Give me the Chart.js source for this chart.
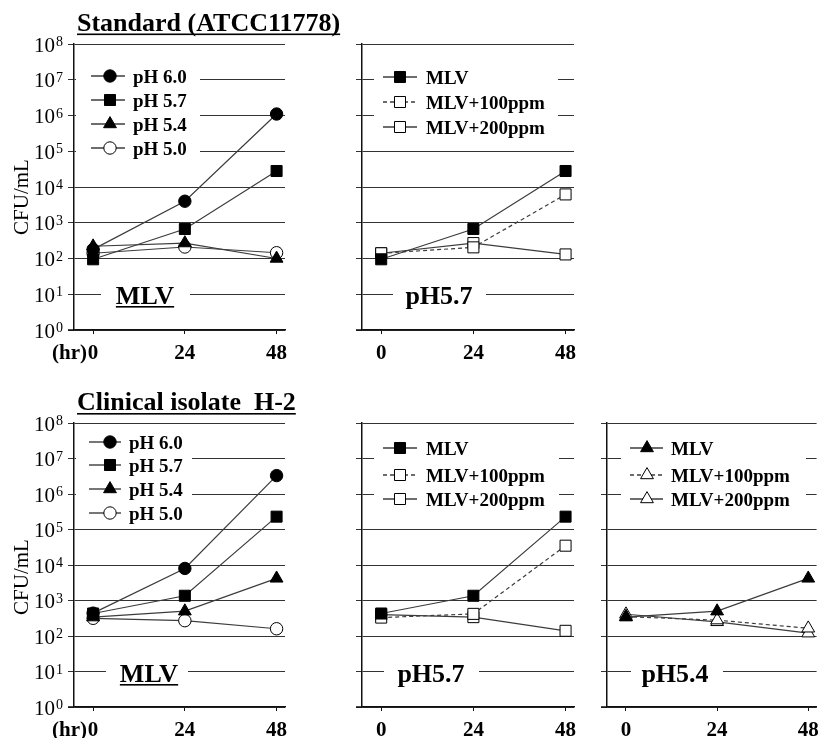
<!DOCTYPE html>
<html>
<head>
<meta charset="utf-8">
<script src="https://cdn.jsdelivr.net/npm/chart.js"></script>
<style>
  html, body { margin: 0; padding: 0; background: #fff; }
  #wrap { position: relative; width: 825px; height: 738px; background: #fff; }
  #wrap canvas { position: absolute; left: 0; top: 0; }
</style>
</head>
<body>
<div id="wrap">
  <canvas id="c0" width="825" height="738"></canvas>
  <canvas id="c1" width="825" height="738"></canvas>
  <canvas id="c2" width="825" height="738"></canvas>
  <canvas id="c3" width="825" height="738"></canvas>
  <canvas id="c4" width="825" height="738"></canvas>
</div>
<script>
// ---------------- DATA ----------------
const hours = [0, 24, 48];
const hourTicks = ['0', '24', '48'];
const yTickExps = [0, 1, 2, 3, 4, 5, 6, 7, 8];
const phNames = ['pH 6.0', 'pH 5.7', 'pH 5.4', 'pH 5.0'];
const mlvNames = ['MLV', 'MLV+100ppm', 'MLV+200ppm'];
const titleStd = 'Standard (ATCC11778)';
const titleH2 = 'Clinical isolate  H-2';
const yTitle = 'CFU/mL';
const hrLabel = '(hr)';
const tagMLV = 'MLV';
const tag57 = 'pH5.7';
const tag54 = 'pH5.4';

// Standard (ATCC11778), MLV at different pH
const stdPH60 = [180, 4000, 1100000];
const stdPH57 = [95, 670, 28000];
const stdPH54 = [220, 270, 100];
const stdPH50 = [140, 210, 145];
// Standard, pH5.7
const stdMLV = [95, 670, 28000];
const stdMLV100 = [140, 205, 6200];
const stdMLV200 = [140, 270, 130];
// Clinical isolate H-2, MLV at different pH
const h2PH60 = [440, 8000, 3300000];
const h2PH57 = [430, 1360, 230000];
const h2PH54 = [340, 500, 4200];
const h2PH50 = [315, 270, 160];
// H-2, pH5.7
const h2MLV57 = [430, 1360, 230000];
const h2MLV100p57 = [330, 420, 35000];
const h2MLV200p57 = [400, 340, 140];
// H-2, pH5.4
const h2MLV54 = [340, 500, 4200];
const h2MLV100p54 = [350, 280, 165];
const h2MLV200p54 = [410, 250, 120];

// ---------------- STYLES ----------------
const FONT = '"Liberation Serif", "Times New Roman", serif';
const LINE_COLOR = '#3c3c3c';
const GRID_COLOR = '#333';
const MK = {
  fc: { pointStyle: 'circle', r: 6.2, fill: '#000' },
  fs: { pointStyle: 'rect', r: 7.8, fill: '#000' },
  ft: { pointStyle: 'triangle', r: 7.4, fill: '#000' },
  oc: { pointStyle: 'circle', r: 6.2, fill: '#fff' },
  os: { pointStyle: 'rect', r: 7.8, fill: '#fff' },
  ot: { pointStyle: 'triangle', r: 7.4, fill: '#fff' }
};
const DASH = [4, 3];

const panels = [
  { id: 'c0', area: [74, 44, 285, 330], yLabels: true, hr: true,
    series: [[phNames[0], stdPH60, 'fc', false], [phNames[1], stdPH57, 'fs', false],
             [phNames[2], stdPH54, 'ft', false], [phNames[3], stdPH50, 'oc', false]],
    legend: { box: [76, 56, 200, 165], x0: 91, x1: 125, mx: 110, tx: 133, rows: [76, 100, 124, 148] },
    tag: { text: tagMLV, cx: 145, base: 304, ul: true, box: [101, 190] },
    title: { text: titleStd, x: 77, base: 31, ul: 33.5 }, yTitleCy: 197 },
  { id: 'c1', area: [362, 44, 574, 330], yLabels: false, hr: false,
    series: [[mlvNames[0], stdMLV, 'fs', false], [mlvNames[1], stdMLV100, 'os', true],
             [mlvNames[2], stdMLV200, 'os', false]],
    legend: { box: [374, 60, 558, 140], x0: 383, x1: 417, mx: 400, tx: 426, rows: [77, 102, 127] },
    tag: { text: tag57, cx: 439, base: 304, ul: false, box: [393, 486] } },
  { id: 'c2', area: [74, 423, 285, 707], yLabels: true, hr: true,
    series: [[phNames[0], h2PH60, 'fc', false], [phNames[1], h2PH57, 'fs', false],
             [phNames[2], h2PH54, 'ft', false], [phNames[3], h2PH50, 'oc', false]],
    legend: { box: [76, 430, 192, 525], x0: 89, x1: 121, mx: 110, tx: 129, rows: [442, 465, 489, 513] },
    tag: { text: tagMLV, cx: 149, base: 682, ul: true, box: [106, 188] },
    title: { text: titleH2, x: 77, base: 410, ul: 413 }, yTitleCy: 577 },
  { id: 'c3', area: [362, 423, 574, 707], yLabels: false, hr: false,
    series: [[mlvNames[0], h2MLV57, 'fs', false], [mlvNames[1], h2MLV100p57, 'os', true],
             [mlvNames[2], h2MLV200p57, 'os', false]],
    legend: { box: [374, 432, 559, 514], x0: 383, x1: 417, mx: 400, tx: 426, rows: [448, 475, 499] },
    tag: { text: tag57, cx: 431, base: 682, ul: false, box: [384, 479] } },
  { id: 'c4', area: [607, 423, 817, 707], yLabels: false, hr: false,
    series: [[mlvNames[0], h2MLV54, 'ft', false], [mlvNames[1], h2MLV100p54, 'ot', true],
             [mlvNames[2], h2MLV200p54, 'ot', false]],
    legend: { box: [621, 432, 806, 514], x0: 630, x1: 663, mx: 647, tx: 671, rows: [448, 475, 499] },
    tag: { text: tag54, cx: 675, base: 682, ul: false, box: [631, 723] } }
];

function drawMarker(ctx, key, x, y) {
  const m = MK[key];
  ctx.save();
  ctx.beginPath();
  if (m.pointStyle === 'circle') {
    ctx.arc(x, y, m.r, 0, Math.PI * 2);
  } else if (m.pointStyle === 'rect') {
    const s = Math.SQRT1_2 * m.r;
    ctx.rect(x - s, y - s, 2 * s, 2 * s);
  } else {
    let a = 0;
    ctx.moveTo(x + Math.sin(a) * m.r, y - Math.cos(a) * m.r);
    a += 2 * Math.PI / 3;
    ctx.lineTo(x + Math.sin(a) * m.r, y - Math.cos(a) * m.r);
    a += 2 * Math.PI / 3;
    ctx.lineTo(x + Math.sin(a) * m.r, y - Math.cos(a) * m.r);
    ctx.closePath();
  }
  ctx.fillStyle = m.fill;
  ctx.fill();
  ctx.lineWidth = 1;
  ctx.strokeStyle = '#000';
  ctx.setLineDash([]);
  ctx.stroke();
  ctx.restore();
}

function underlineText(ctx, text, x, align, base, ulY, w) {
  const tw = ctx.measureText(text).width;
  const left = align === 'center' ? x - tw / 2 : x;
  ctx.fillText(text, x, base);
  ctx.fillRect(left, ulY, tw, w);
}

function decoPlugin(p) {
  return {
    id: 'deco_' + p.id,
    beforeDatasetsDraw(chart) {
      const ctx = chart.ctx;
      const ca = chart.chartArea;
      ctx.save();
      ctx.fillStyle = '#fff';
      const lb = p.legend.box;
      ctx.fillRect(lb[0], lb[1], lb[2] - lb[0], lb[3] - lb[1]);
      const tb = p.tag.box;
      ctx.fillRect(tb[0], p.tag.base - 24, tb[1] - tb[0], 32);
      // x axis stub extending left of y axis
      ctx.strokeStyle = '#111';
      ctx.lineWidth = 1.5;
      ctx.beginPath();
      ctx.moveTo(ca.left - 6, ca.bottom);
      ctx.lineTo(ca.left, ca.bottom);
      ctx.stroke();
      ctx.restore();
    },
    afterDraw(chart) {
      const ctx = chart.ctx;
      const ca = chart.chartArea;
      const xs = chart.scales.x;
      const ys = chart.scales.y;
      ctx.save();
      ctx.fillStyle = '#000';
      // legend
      const L = p.legend;
      p.series.forEach((s, i) => {
        const ry = L.rows[i];
        ctx.save();
        ctx.strokeStyle = LINE_COLOR;
        ctx.lineWidth = 1.4;
        ctx.setLineDash(s[3] ? DASH : []);
        ctx.beginPath();
        ctx.moveTo(L.x0, ry);
        ctx.lineTo(L.x1, ry);
        ctx.stroke();
        ctx.restore();
        drawMarker(ctx, s[2], L.mx, ry);
        ctx.font = 'bold 19px ' + FONT;
        ctx.textAlign = 'left';
        ctx.textBaseline = 'alphabetic';
        ctx.fillText(s[0], L.tx, ry + 7);
      });
      // panel tag
      ctx.font = 'bold 26px ' + FONT;
      ctx.textAlign = 'center';
      ctx.textBaseline = 'alphabetic';
      if (p.tag.ul) {
        underlineText(ctx, p.tag.text, p.tag.cx, 'center', p.tag.base, p.tag.base + 2, 1.6);
      } else {
        ctx.fillText(p.tag.text, p.tag.cx, p.tag.base);
      }
      // x tick labels
      ctx.font = 'bold 21px ' + FONT;
      ctx.textAlign = 'center';
      const xb = ca.bottom + 28.5;
      hours.forEach((h, i) => {
        ctx.fillText(hourTicks[i], xs.getPixelForValue(h), xb);
      });
      if (p.hr) {
        ctx.textAlign = 'right';
        ctx.fillText(hrLabel, 87, xb);
      }
      // y tick labels
      if (p.yLabels) {
        yTickExps.forEach(e => {
          const py = ys.getPixelForValue(Math.pow(10, e));
          ctx.font = '21px ' + FONT;
          ctx.textAlign = 'right';
          ctx.fillText('10', 55, py + 7.5);
          ctx.font = '14px ' + FONT;
          ctx.textAlign = 'left';
          ctx.fillText(String(e), 56, py + 2);
        });
        // y axis title
        ctx.save();
        ctx.font = '21px ' + FONT;
        ctx.translate(28, p.yTitleCy);
        ctx.rotate(-Math.PI / 2);
        ctx.textAlign = 'center';
        ctx.fillText(yTitle, 0, 0);
        ctx.restore();
      }
      // panel group title
      if (p.title) {
        ctx.font = 'bold 26px ' + FONT;
        ctx.textAlign = 'left';
        underlineText(ctx, p.title.text, p.title.x, 'left', p.title.base, p.title.ul, 1.6);
      }
      ctx.restore();
    }
  };
}

const W = 825, H = 738;
const Y_AXIS_W = 8, X_AXIS_H = 30;

panels.forEach(p => {
  const [l, t, r, b] = p.area;
  const datasets = p.series.map(s => ({
    label: s[0],
    data: hours.map((h, i) => ({ x: h, y: s[1][i] })),
    borderColor: LINE_COLOR,
    borderWidth: 1.2,
    borderDash: s[3] ? DASH : [],
    pointStyle: MK[s[2]].pointStyle,
    pointRadius: MK[s[2]].r,
    pointHoverRadius: MK[s[2]].r,
    pointBackgroundColor: MK[s[2]].fill,
    pointBorderColor: '#000',
    pointBorderWidth: 1,
    tension: 0,
    fill: false,
    clip: false
  }));
  new Chart(document.getElementById(p.id), {
    type: 'line',
    data: { datasets },
    options: {
      responsive: false,
      animation: false,
      events: [],
      devicePixelRatio: 1,
      layout: { padding: { left: l - Y_AXIS_W, top: t, right: W - r, bottom: H - b - X_AXIS_H } },
      plugins: { legend: { display: false }, tooltip: { enabled: false }, title: { display: false } },
      scales: {
        x: {
          type: 'linear',
          min: -5,
          max: 50.2,
          afterBuildTicks: (scale) => { scale.ticks = hours.map(v => ({ value: v })); },
          afterFit: (scale) => { scale.height = X_AXIS_H; },
          ticks: { display: false },
          grid: { display: true, drawOnChartArea: false, drawTicks: true, tickLength: 4, color: '#111', lineWidth: 1 },
          border: { display: true, color: '#111', width: 1.5 }
        },
        y: {
          type: 'logarithmic',
          min: 1,
          max: 1e8,
          afterBuildTicks: (scale) => { scale.ticks = yTickExps.map(e => ({ value: Math.pow(10, e), major: true })); },
          afterFit: (scale) => { scale.width = Y_AXIS_W; },
          ticks: { display: false },
          grid: { display: true, drawOnChartArea: true, drawTicks: true, tickLength: 6, color: GRID_COLOR, lineWidth: 1 },
          border: { display: true, color: '#111', width: 1.5 }
        }
      }
    },
    plugins: [decoPlugin(p)]
  });
});
</script>
</body>
</html>
